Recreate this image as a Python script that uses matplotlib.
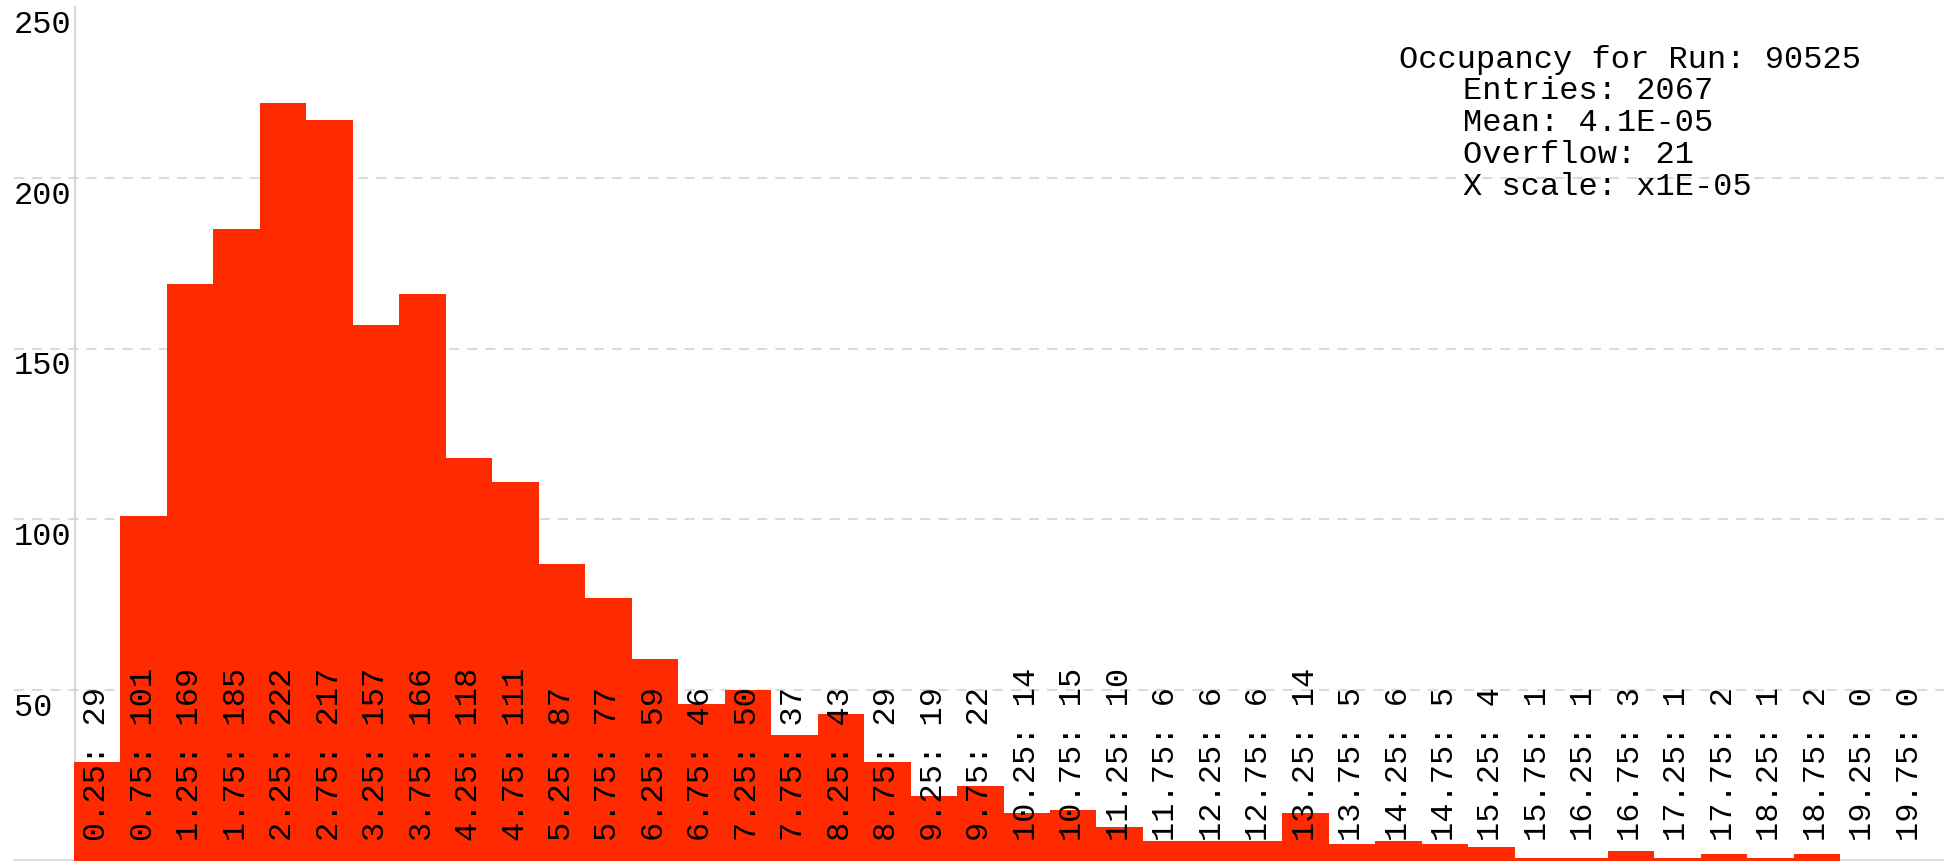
import matplotlib
matplotlib.use("Agg")
import matplotlib.pyplot as plt
import numpy as np

# occupancy histogram, 40 bins of width 0.5 (x1E-05)
bin_centers = [0.25, 0.75, 1.25, 1.75, 2.25, 2.75, 3.25, 3.75, 4.25, 4.75,
               5.25, 5.75, 6.25, 6.75, 7.25, 7.75, 8.25, 8.75, 9.25, 9.75,
               10.25, 10.75, 11.25, 11.75, 12.25, 12.75, 13.25, 13.75, 14.25, 14.75,
               15.25, 15.75, 16.25, 16.75, 17.25, 17.75, 18.25, 18.75, 19.25, 19.75]
counts = [29, 101, 169, 185, 222, 217, 157, 166, 118, 111,
          87, 77, 59, 46, 50, 37, 43, 29, 19, 22,
          14, 15, 10, 6, 6, 6, 14, 5, 6, 5,
          4, 1, 1, 3, 1, 2, 1, 2, 0, 0]
y_ticks = [50, 100, 150, 200, 250]
grid_levels = [50, 100, 150, 200]
stats_title = "Occupancy for Run: 90525"
stats_lines = ["Entries: 2067", "Mean: 4.1E-05", "Overflow: 21", "X scale: x1E-05"]

FONT = "Liberation Mono"
FS = 23
RED = "#ff2a00"
GRID = "#dadada"

fig = plt.figure(figsize=(19.44, 8.61), dpi=100)
ax = fig.add_axes([74 / 1944, 0, 1859 / 1944, 1])
ax.set_xlim(0, 20)
ax.set_ylim(0, 252)
ax.axis("off")

centers = np.array(bin_centers)
edges = np.append(centers - 0.25, centers[-1] + 0.25)

# dashed guide lines, running past the left axis line
for g in grid_levels:
    ax.plot([-0.645, 20.2], [g, g], color=GRID, lw=1.45,
            linestyle=(0, (5, 4)), clip_on=False, zorder=1)
ax.plot([-0.645, 20.2], [0.3, 0.3], color=GRID, lw=1.2, clip_on=False, zorder=1)
ax.plot([0.01, 0.01], [0, 250], color="#d6d6d6", lw=1.5, clip_on=False, zorder=1)

ax.stairs(counts, edges, fill=True, color=RED, linewidth=0, zorder=2)

for v in y_ticks:
    ax.text(-0.645, v - 7.6, str(v), ha="left", va="baseline",
            family=FONT, fontsize=FS, clip_on=False)

for c, n in zip(bin_centers, counts):
    ax.text(c, 5.8, f"{c:.2f}: {n}", rotation=90, ha="center", va="bottom",
            family=FONT, fontsize=FS, zorder=3)

ax.text(14.26, 232.2, stats_title, ha="left", va="baseline",
        family=FONT, fontsize=FS, zorder=3)
for i, line in enumerate(stats_lines):
    ax.text(14.94, 222.9 - 9.31 * i, line, ha="left", va="baseline",
            family=FONT, fontsize=FS, zorder=3)

fig.savefig("out.png", dpi=100, facecolor="white")
